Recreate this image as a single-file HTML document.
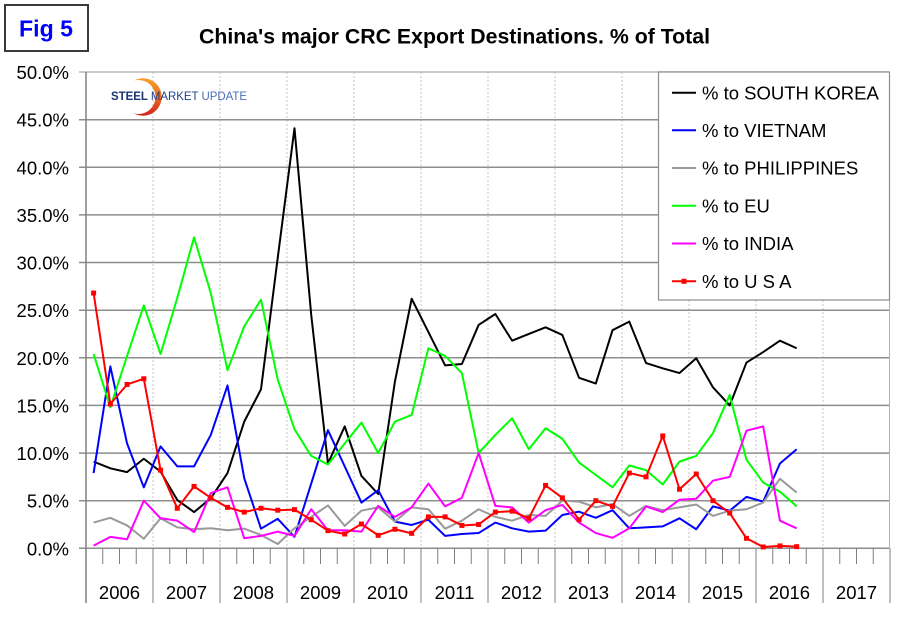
<!DOCTYPE html>
<html>
<head>
<meta charset="utf-8">
<style>
html,body{margin:0;padding:0;background:#fff;}
svg{display:block;font-family:"Liberation Sans",Arial,sans-serif;}
.s{fill:none;stroke-width:2;vector-effect:non-scaling-stroke;stroke-linejoin:round;}
.m{fill:#ff0000;}
</style>
</head>
<body>
<svg width="910" height="622" viewBox="0 0 910 622" xmlns="http://www.w3.org/2000/svg">
<rect x="0" y="0" width="910" height="622" fill="#fff"/>

<!-- Fig 5 box -->
<rect x="5" y="5" width="83" height="46" fill="#fff" stroke="#3a3a3a" stroke-width="2"/>
<text x="19" y="36.5" font-size="23.5" font-weight="bold" fill="#0000ff" textLength="54" lengthAdjust="spacingAndGlyphs">Fig 5</text>

<!-- Title -->
<text x="199" y="43.3" font-size="21" font-weight="bold" fill="#000" textLength="511" lengthAdjust="spacingAndGlyphs">China's major CRC Export Destinations. % of Total</text>

<!-- vertical dotted year lines -->
<g stroke="#c4c4c4" stroke-width="1" stroke-dasharray="2,2">
<line x1="153" y1="72" x2="153" y2="548"/>
<line x1="220" y1="72" x2="220" y2="548"/>
<line x1="287" y1="72" x2="287" y2="548"/>
<line x1="354" y1="72" x2="354" y2="548"/>
<line x1="421" y1="72" x2="421" y2="548"/>
<line x1="488" y1="72" x2="488" y2="548"/>
<line x1="555" y1="72" x2="555" y2="548"/>
<line x1="622" y1="72" x2="622" y2="548"/>
<line x1="689" y1="72" x2="689" y2="548"/>
<line x1="756" y1="72" x2="756" y2="548"/>
<line x1="823" y1="72" x2="823" y2="548"/>
</g>
<line x1="889.5" y1="72" x2="889.5" y2="548" stroke="#b0b0b0" stroke-width="1"/>

<!-- horizontal gridlines -->
<g stroke="#8e8e8e" stroke-width="1.5">
<line x1="79" y1="72" x2="889" y2="72" stroke="#b8b8b8"/>
<line x1="79" y1="119.7" x2="889" y2="119.7"/>
<line x1="79" y1="167.3" x2="889" y2="167.3"/>
<line x1="79" y1="214.9" x2="889" y2="214.9"/>
<line x1="79" y1="262.5" x2="889" y2="262.5"/>
<line x1="79" y1="310.2" x2="889" y2="310.2"/>
<line x1="79" y1="357.8" x2="889" y2="357.8"/>
<line x1="79" y1="405.4" x2="889" y2="405.4"/>
<line x1="79" y1="453.1" x2="889" y2="453.1"/>
<line x1="79" y1="500.7" x2="889" y2="500.7"/>
<line x1="79" y1="548.3" x2="889" y2="548.3"/>
</g>

<!-- x axis ticks -->
<g stroke="#808080" stroke-width="1">
<line x1="86" y1="72" x2="86" y2="603" stroke-width="1.5"/>
<line x1="153" y1="548" x2="153" y2="603"/>
<line x1="220" y1="548" x2="220" y2="603"/>
<line x1="287" y1="548" x2="287" y2="603"/>
<line x1="354" y1="548" x2="354" y2="603"/>
<line x1="421" y1="548" x2="421" y2="603"/>
<line x1="488" y1="548" x2="488" y2="603"/>
<line x1="555" y1="548" x2="555" y2="603"/>
<line x1="622" y1="548" x2="622" y2="603"/>
<line x1="689" y1="548" x2="689" y2="603"/>
<line x1="756" y1="548" x2="756" y2="603"/>
<line x1="823" y1="548" x2="823" y2="603"/>
<line x1="890" y1="548" x2="890" y2="603"/>
</g>
<path stroke="#808080" stroke-width="1" fill="none" d="
M102.75 548V564M119.5 548V564M136.25 548V564
M169.75 548V564M186.5 548V564M203.25 548V564
M236.75 548V564M253.5 548V564M270.25 548V564
M303.75 548V564M320.5 548V564M337.25 548V564
M370.75 548V564M387.5 548V564M404.25 548V564
M437.75 548V564M454.5 548V564M471.25 548V564
M504.75 548V564M521.5 548V564M538.25 548V564
M571.75 548V564M588.5 548V564M605.25 548V564
M638.75 548V564M655.5 548V564M672.25 548V564
M705.75 548V564M722.5 548V564M739.25 548V564
M772.75 548V564M789.5 548V564M806.25 548V564
M839.75 548V564M856.5 548V564M873.25 548V564"/>

<!-- y labels -->
<g font-size="18.5" fill="#000" text-anchor="end">
<text x="69" y="79">50.0%</text>
<text x="69" y="126.7">45.0%</text>
<text x="69" y="174.3">40.0%</text>
<text x="69" y="221.9">35.0%</text>
<text x="69" y="269.5">30.0%</text>
<text x="69" y="317.2">25.0%</text>
<text x="69" y="364.8">20.0%</text>
<text x="69" y="412.4">15.0%</text>
<text x="69" y="460.1">10.0%</text>
<text x="69" y="507.7">5.0%</text>
<text x="69" y="555.3">0.0%</text>
</g>

<!-- x labels -->
<g font-size="18.5" fill="#000" text-anchor="middle">
<text x="119.5" y="599">2006</text>
<text x="186.5" y="599">2007</text>
<text x="253.5" y="599">2008</text>
<text x="320.5" y="599">2009</text>
<text x="387.5" y="599">2010</text>
<text x="454.5" y="599">2011</text>
<text x="521.5" y="599">2012</text>
<text x="588.5" y="599">2013</text>
<text x="655.5" y="599">2014</text>
<text x="722.5" y="599">2015</text>
<text x="789.5" y="599">2016</text>
<text x="856.5" y="599">2017</text>
</g>

<!-- logo -->
<defs>
<linearGradient id="lg" x1="0" y1="0" x2="0" y2="1">
<stop offset="0" stop-color="#f7a12a"/>
<stop offset="0.5" stop-color="#ee6a22"/>
<stop offset="1" stop-color="#cc2418"/>
</linearGradient>
</defs>
<path d="M134 80.6 A18.7 18.7 0 1 1 134 113.4 A17 17 0 1 0 134 80.6 Z" fill="url(#lg)"/>
<text x="111" y="100" font-size="11.6" textLength="136" lengthAdjust="spacingAndGlyphs"><tspan font-weight="bold" fill="#1a3570">STEEL </tspan><tspan fill="#1f428c">MARKET </tspan><tspan fill="#4a6fb5">UPDATE</tspan></text>

<!-- series -->
<g transform="translate(93.6,548.3) scale(16.74,-9.525)">
<polyline class="s" stroke="#000000" points="0,9.1 1,8.4 2,8.0 3,9.4 4,8.05 5,5.07 6,3.8 7,5.25 8,7.9 9,13.3 10,16.7 11,30.5 12,44.1 13,24.5 14,8.9 15,12.8 16,7.6 17,5.7 18,17.5 19,26.2 20,22.7 21,19.2 22,19.35 23,23.45 24,24.6 25,21.8 26,22.5 27,23.2 28,22.4 29,17.9 30,17.3 31,22.9 32,23.8 33,19.45 34,18.9 35,18.4 36,19.95 37,16.9 38,15.0 39,19.5 40,20.6 41,21.8 42,21.0"/>
<polyline class="s" stroke="#0000ff" points="0,7.9 1,19.1 2,11.0 3,6.4 4,10.7 5,8.6 6,8.6 7,11.9 8,17.1 9,7.35 10,2.06 11,3.1 12,1.2 13,6.8 14,12.4 15,8.6 16,4.8 17,6.1 18,2.8 19,2.45 20,3.0 21,1.3 22,1.5 23,1.6 24,2.7 25,2.1 26,1.75 27,1.85 28,3.5 29,3.85 30,3.2 31,4.0 32,2.1 33,2.2 34,2.3 35,3.15 36,2.0 37,4.4 38,3.95 39,5.4 40,4.9 41,8.9 42,10.4"/>
<polyline class="s" stroke="#999999" points="0,2.7 1,3.2 2,2.4 3,1.0 4,3.15 5,2.2 6,2.0 7,2.1 8,1.9 9,2.06 10,1.4 11,0.45 12,2.1 13,3.3 14,4.5 15,2.35 16,3.95 17,4.3 18,2.8 19,4.3 20,4.1 21,2.06 22,2.9 23,4.1 24,3.3 25,2.9 26,3.5 27,3.4 28,5.0 29,4.9 30,4.3 31,4.65 32,3.4 33,4.45 34,4.0 35,4.3 36,4.6 37,3.4 38,3.95 39,4.1 40,4.8 41,7.3 42,5.85"/>
<polyline class="s" stroke="#00ff00" points="0,20.4 1,14.8 2,20.2 3,25.5 4,20.4 5,26.3 6,32.65 7,26.8 8,18.7 9,23.3 10,26.1 11,17.7 12,12.5 13,9.7 14,8.8 15,11.0 16,13.2 17,10.0 18,13.3 19,14.0 20,21.0 21,20.2 22,18.4 23,10.0 24,11.9 25,13.65 26,10.4 27,12.6 28,11.5 29,9.0 30,7.7 31,6.4 32,8.7 33,8.2 34,6.7 35,9.1 36,9.7 37,12.1 38,16.1 39,9.3 40,6.9 41,5.95 42,4.4"/>
<polyline class="s" stroke="#ff00ff" points="0,0.28 1,1.2 2,0.95 3,5.0 4,3.15 5,2.9 6,1.7 7,5.8 8,6.4 9,1.05 10,1.3 11,1.75 12,1.3 13,4.1 14,1.9 15,1.9 16,1.75 17,4.45 18,3.3 19,4.3 20,6.8 21,4.4 22,5.3 23,10.0 24,4.45 25,4.3 26,2.7 27,4.0 28,4.55 29,2.7 30,1.6 31,1.1 32,2.1 33,4.4 34,3.8 35,5.1 36,5.2 37,7.1 38,7.5 39,12.35 40,12.8 41,2.9 42,2.1"/>
<polyline class="s" stroke="#ff0000" points="0,26.8 1,15.15 2,17.2 3,17.8 4,8.2 5,4.2 6,6.5 7,5.3 8,4.3 9,3.8 10,4.2 11,4.0 12,4.06 13,3.0 14,1.85 15,1.5 16,2.55 17,1.36 18,2.0 19,1.57 20,3.3 21,3.3 22,2.4 23,2.5 24,3.8 25,3.9 26,3.15 27,6.6 28,5.3 29,3.0 30,5.0 31,4.4 32,7.9 33,7.5 34,11.8 35,6.2 36,7.8 37,5.0 38,3.7 39,1.05 40,0.14 41,0.25 42,0.17"/>
<g class="m">
<rect x="-0.15" y="26.54" width="0.3" height="0.52"/>
<rect x="0.85" y="14.89" width="0.3" height="0.52"/>
<rect x="1.85" y="16.94" width="0.3" height="0.52"/>
<rect x="2.85" y="17.54" width="0.3" height="0.52"/>
<rect x="3.85" y="7.94" width="0.3" height="0.52"/>
<rect x="4.85" y="3.94" width="0.3" height="0.52"/>
<rect x="5.85" y="6.24" width="0.3" height="0.52"/>
<rect x="6.85" y="5.04" width="0.3" height="0.52"/>
<rect x="7.85" y="4.04" width="0.3" height="0.52"/>
<rect x="8.85" y="3.54" width="0.3" height="0.52"/>
<rect x="9.85" y="3.94" width="0.3" height="0.52"/>
<rect x="10.85" y="3.74" width="0.3" height="0.52"/>
<rect x="11.85" y="3.80" width="0.3" height="0.52"/>
<rect x="12.85" y="2.74" width="0.3" height="0.52"/>
<rect x="13.85" y="1.59" width="0.3" height="0.52"/>
<rect x="14.85" y="1.24" width="0.3" height="0.52"/>
<rect x="15.85" y="2.29" width="0.3" height="0.52"/>
<rect x="16.85" y="1.10" width="0.3" height="0.52"/>
<rect x="17.85" y="1.74" width="0.3" height="0.52"/>
<rect x="18.85" y="1.31" width="0.3" height="0.52"/>
<rect x="19.85" y="3.04" width="0.3" height="0.52"/>
<rect x="20.85" y="3.04" width="0.3" height="0.52"/>
<rect x="21.85" y="2.14" width="0.3" height="0.52"/>
<rect x="22.85" y="2.24" width="0.3" height="0.52"/>
<rect x="23.85" y="3.54" width="0.3" height="0.52"/>
<rect x="24.85" y="3.64" width="0.3" height="0.52"/>
<rect x="25.85" y="2.89" width="0.3" height="0.52"/>
<rect x="26.85" y="6.34" width="0.3" height="0.52"/>
<rect x="27.85" y="5.04" width="0.3" height="0.52"/>
<rect x="28.85" y="2.74" width="0.3" height="0.52"/>
<rect x="29.85" y="4.74" width="0.3" height="0.52"/>
<rect x="30.85" y="4.14" width="0.3" height="0.52"/>
<rect x="31.85" y="7.64" width="0.3" height="0.52"/>
<rect x="32.85" y="7.24" width="0.3" height="0.52"/>
<rect x="33.85" y="11.54" width="0.3" height="0.52"/>
<rect x="34.85" y="5.94" width="0.3" height="0.52"/>
<rect x="35.85" y="7.54" width="0.3" height="0.52"/>
<rect x="36.85" y="4.74" width="0.3" height="0.52"/>
<rect x="37.85" y="3.44" width="0.3" height="0.52"/>
<rect x="38.85" y="0.79" width="0.3" height="0.52"/>
<rect x="39.85" y="-0.12" width="0.3" height="0.52"/>
<rect x="40.85" y="-0.01" width="0.3" height="0.52"/>
<rect x="41.85" y="-0.09" width="0.3" height="0.52"/>
</g>
</g>

<!-- legend -->
<rect x="658.5" y="72" width="231" height="228" fill="#fff" stroke="#8c8c8c" stroke-width="1.2"/>
<g stroke-width="2">
<line x1="672" y1="92.7" x2="696" y2="92.7" stroke="#000"/>
<line x1="672" y1="130.3" x2="696" y2="130.3" stroke="#0000ff"/>
<line x1="672" y1="168" x2="696" y2="168" stroke="#999999"/>
<line x1="672" y1="205.7" x2="696" y2="205.7" stroke="#00ff00"/>
<line x1="672" y1="243.5" x2="696" y2="243.5" stroke="#ff00ff"/>
<line x1="672" y1="281.3" x2="696" y2="281.3" stroke="#ff0000"/>
</g>
<rect x="681.5" y="278.8" width="5" height="5" fill="#ff0000"/>
<g font-size="18.5" fill="#000">
<text x="702" y="99.3">% to SOUTH KOREA</text>
<text x="702" y="136.9">% to VIETNAM</text>
<text x="702" y="174.6">% to PHILIPPINES</text>
<text x="702" y="212.3">% to EU</text>
<text x="702" y="250.1">% to INDIA</text>
<text x="702" y="287.9">% to U S A</text>
</g>
</svg>
</body>
</html>
